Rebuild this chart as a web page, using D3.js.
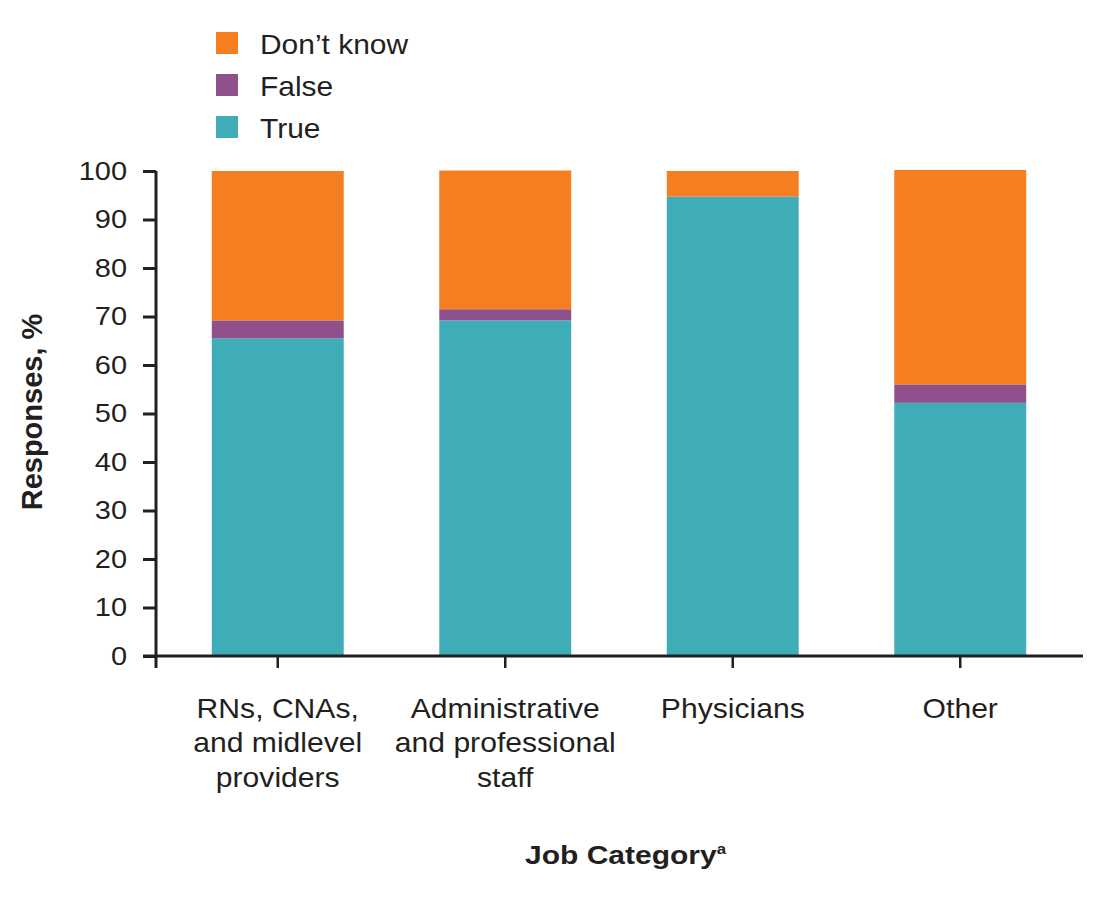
<!DOCTYPE html>
<html>
<head>
<meta charset="utf-8">
<script src="https://cdn.jsdelivr.net/npm/d3@7"></script>
<style>
body{margin:0;background:#fff;}
svg{display:block;font-family:"Liberation Sans",Arial,sans-serif;}
</style>
</head>
<body>
<svg id="chart" width="1109" height="904"></svg>
<script>
const categories = [
  ["RNs, CNAs,", "and midlevel", "providers"],
  ["Administrative", "and professional", "staff"],
  ["Physicians"],
  ["Other"]
];
const categoryKeys = ["RNs", "Admin", "Physicians", "Other"];
const trueValues = [65.5, 69.2, 94.7, 52.2];
const falseValues = [3.7, 2.3, 0, 3.8];
const dontKnowValues = [30.8, 28.6, 5.3, 44.2];
const seriesNames = ["True", "False", "Don\u2019t know"];
const seriesColors = ["#3FADB7", "#8E518B", "#F47E20"];
const yTicks = [0,10,20,30,40,50,60,70,80,90,100];

const svg = d3.select("#chart");
const x = d3.scaleBand().domain(categoryKeys).range([164, 1074]).paddingInner(0.42).paddingOuter(0.21);
const y = d3.scaleLinear().domain([0, 100]).range([656, 171]);

const rows = categoryKeys.map((k, i) => ({key: k, "True": trueValues[i], "False": falseValues[i], "Don\u2019t know": dontKnowValues[i]}));
const stack = d3.stack().keys(seriesNames)(rows);

svg.append("g").selectAll("g").data(stack).join("g")
  .attr("fill", (d, i) => seriesColors[i])
  .selectAll("rect").data(d => d).join("rect")
  .attr("x", d => x(d.data.key))
  .attr("width", x.bandwidth())
  .attr("y", d => y(d[1]))
  .attr("height", d => Math.max(0, y(d[0]) - y(d[1])));

// Y axis
const sxTick = 1.16;
const yAxis = svg.append("g").attr("transform", "translate(156,0)")
  .call(d3.axisLeft(y).tickValues(yTicks).tickSize(13).tickPadding(0));
yAxis.select(".domain").attr("d", `M0,${y(100)}V668`).attr("stroke", "#231f20").attr("stroke-width", 3);
yAxis.selectAll(".tick line").attr("stroke", "#231f20").attr("stroke-width", 3);
yAxis.selectAll(".tick text").attr("font-size", 25).attr("fill", "#231f20")
  .attr("font-family", "Liberation Sans, Arial, sans-serif")
  .attr("x", -29 / sxTick).attr("transform", `scale(${sxTick},1)`);

// X axis
const xAxis = svg.append("g").attr("transform", "translate(0,656)")
  .call(d3.axisBottom(x).tickSize(12).tickFormat(""));
xAxis.select(".domain").attr("d", "M143,0H1083").attr("stroke", "#231f20").attr("stroke-width", 3);
xAxis.selectAll(".tick line").attr("stroke", "#231f20").attr("stroke-width", 2.5);

// Category labels
const sxCat = 1.095;
const labels = svg.append("g").attr("font-size", 27.5).attr("fill", "#231f20").attr("text-anchor", "middle");
categories.forEach((lines, i) => {
  const cx = x(categoryKeys[i]) + x.bandwidth() / 2;
  const t = labels.append("text").attr("transform", `translate(${cx},718) scale(${sxCat},1)`);
  lines.forEach((ln, j) => t.append("tspan").attr("x", 0).attr("dy", j === 0 ? 0 : 34.5).text(ln));
});

// Axis titles
svg.append("text").attr("transform", "translate(42,412) rotate(-90)")
  .attr("text-anchor", "middle").attr("font-size", 29).attr("font-weight", "bold").attr("fill", "#231f20")
  .text("Responses, %");
const xt = svg.append("text").attr("transform", "translate(525,864) scale(1.2,1)")
  .attr("font-size", 25).attr("font-weight", "bold").attr("fill", "#231f20");
xt.append("tspan").text("Job Category");
xt.append("tspan").attr("font-size", 14).attr("dy", -10).text("a");

// Legend
const legendOrder = [2, 1, 0];
const lg = svg.append("g");
legendOrder.forEach((si, j) => {
  const gy = 32 + j * 42;
  lg.append("rect").attr("x", 216).attr("y", gy).attr("width", 22).attr("height", 22).attr("fill", seriesColors[si]);
  lg.append("text").attr("transform", `translate(260,${gy + 22}) scale(1.05,1)`)
    .attr("font-size", 28.5).attr("fill", "#231f20").text(seriesNames[si]);
});
</script>
</body>
</html>
